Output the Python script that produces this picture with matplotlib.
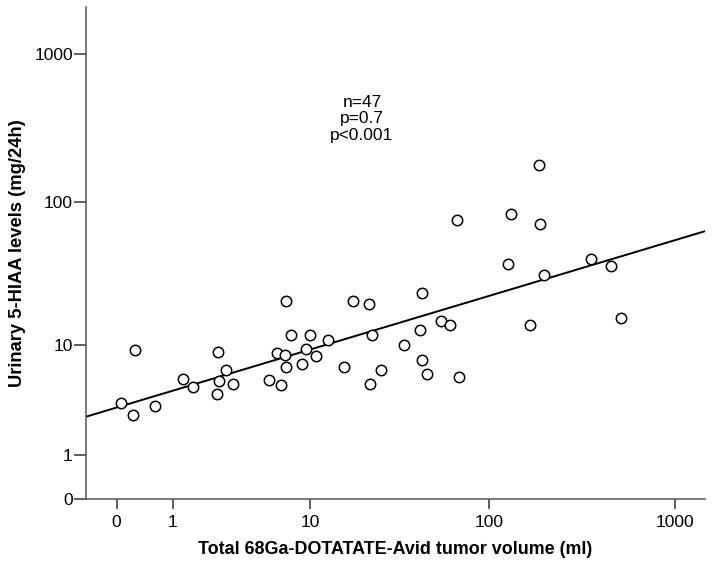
import numpy as np
import matplotlib
matplotlib.use("Agg")
import matplotlib.pyplot as plt

plt.rcParams["font.family"] = ["Liberation Sans", "DejaVu Sans"]

# tumor volume (ml) and urinary 5-HIAA (mg/24h)
volume = [
    0.06, 0.22, 0.26, 0.60, 1.26, 1.58, 2.50, 2.86, 2.54, 2.45,
    3.24, 5.59, 6.27, 7.00, 7.10, 6.67, 7.16, 7.68, 9.95, 9.46,
    8.91, 10.8, 12.6, 15.7, 17.7, 21.6, 22.5, 22.0, 25.4, 33.9,
    43.0, 41.9, 42.6, 45.6, 54.6, 61.2, 68.5, 66.8, 186, 130,
    188, 125.5, 198, 354, 455, 165.7, 515,
]
hiaa = [
    3.48, 2.69, 9.2, 3.28, 5.45, 4.74, 8.80, 6.41, 5.28, 4.16,
    4.96, 5.37, 8.65, 8.35, 6.84, 4.87, 20.7, 11.9, 11.9, 9.27,
    7.14, 8.21, 10.9, 6.84, 20.7, 19.75, 11.9, 4.96, 6.44, 9.93,
    23.6, 12.9, 7.66, 5.96, 14.9, 13.9, 5.65, 75.8, 179, 83,
    71, 37.6, 31.5, 40.5, 36.6, 13.9, 15.8,
]

# fit line in log10(value + 1) space
fit_intercept = 0.619
fit_slope = 0.376

ticks = [0, 1, 10, 100, 1000]
tick_labels = ["0", "1", "10", "100", "1000"]
stats_text = "n=47\np=0.7\np<0.001"


def fwd(v):
    return np.log10(np.asarray(v) + 1.0)


def inv(t):
    return 10.0 ** np.asarray(t) - 1.0


fig = plt.figure(figsize=(7.14, 5.70), dpi=100)
ax = fig.add_axes([0.1204, 0.1240, 0.8670, 0.8637])

ax.set_xscale("function", functions=(fwd, inv))
ax.set_yscale("function", functions=(fwd, inv))
ax.set_xlim(-0.316, 1454)
ax.set_ylim(0, 2088)

ax.scatter(volume, hiaa, s=56, facecolors="white", edgecolors="black",
           linewidths=1.1, zorder=3)

xt = np.linspace(fwd(-0.316), fwd(1454), 50)
ax.plot(inv(xt), inv(fit_intercept + fit_slope * xt), color="black",
        lw=1.4, zorder=2)

ax.set_xticks(ticks)
ax.set_xticklabels(tick_labels)
ax.set_yticks(ticks)
ax.set_yticklabels(tick_labels)
ax.minorticks_off()
ax.tick_params(axis="x", direction="out", length=7.5, width=1.1,
               labelsize=12.5, pad=4, color="#333333")
ax.tick_params(axis="y", direction="out", length=8.5, width=1.1,
               labelsize=12.5, pad=1, color="#333333")

for side in ["top", "right"]:
    ax.spines[side].set_visible(False)
for side in ["left", "bottom"]:
    ax.spines[side].set_color("#555555")
    ax.spines[side].set_linewidth(1.1)

ax.set_xlabel("Total 68Ga-DOTATATE-Avid tumor volume (ml)",
              fontsize=12.9, fontweight="bold", labelpad=8)
ax.set_ylabel("Urinary 5-HIAA levels (mg/24h)",
              fontsize=13.2, fontweight="bold", labelpad=6)

fig.text(362 / 714, 1 - 119 / 570, stats_text, ha="center", va="center",
         fontsize=12.5, linespacing=1.15)

fig.savefig("out.png", dpi=100)
